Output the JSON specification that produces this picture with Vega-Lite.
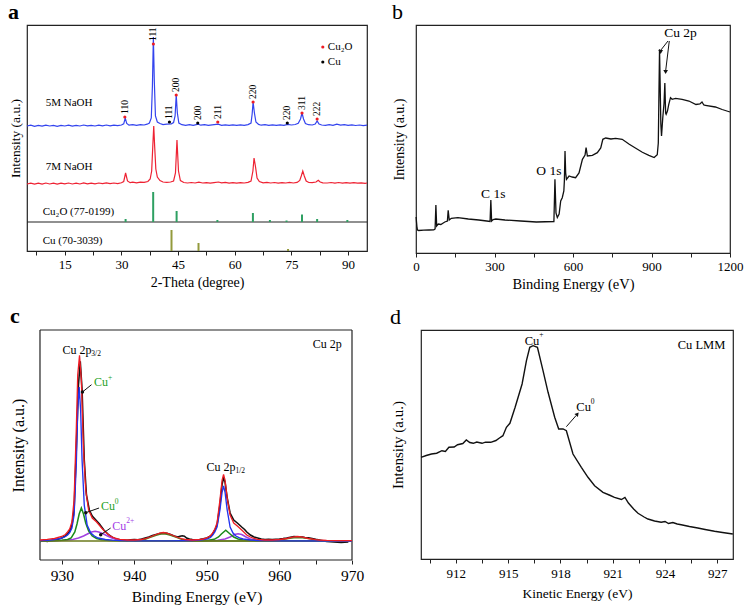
{
"$schema":"https://vega.github.io/schema/vega-lite/v6.json",
"padding":{"left":7,"top":0,"right":0,"bottom":0},
"background":"white",
"config":{
"view":{"stroke":"#222","strokeWidth":1.2},
"axis":{"labelFont":"Liberation Serif","titleFont":"Liberation Serif","grid":false,"domain":false,"tickColor":"#222","labelColor":"#000","titleColor":"#000","titleFontWeight":400,"format":"d","labelFlush":false,"tickSize":4},
"title":{"font":"Liberation Serif","fontSize":22,"anchor":"start","frame":"bounds","offset":1,"color":"#000"},
"text":{"font":"Liberation Serif","color":"#000"}
},
"datasets":{
"a_sep":[{"x":5,"x2":95,"y":29}],
"a_ref":[
{"x":31.1,"y":29,"y2":32,"ref":"Cu2O"},{"x":38.4,"y":29,"y2":59,"ref":"Cu2O"},{"x":44.6,"y":29,"y2":40,"ref":"Cu2O"},{"x":55.4,"y":29,"y2":31,"ref":"Cu2O"},{"x":64.8,"y":29,"y2":38,"ref":"Cu2O"},{"x":69.3,"y":29,"y2":31,"ref":"Cu2O"},{"x":73.7,"y":29,"y2":30.5,"ref":"Cu2O"},{"x":77.8,"y":29,"y2":36.5,"ref":"Cu2O"},{"x":81.8,"y":29,"y2":32,"ref":"Cu2O"},{"x":89.8,"y":29,"y2":31,"ref":"Cu2O"},
{"x":43.25,"y":0,"y2":21,"ref":"Cu"},{"x":50.4,"y":0,"y2":8,"ref":"Cu"},{"x":74.1,"y":0,"y2":2,"ref":"Cu"}],
"a_xrd":[
{"x":5,"y":125,"s":"5M"},{"x":6,"y":125.8,"s":"5M"},{"x":7,"y":124.6,"s":"5M"},{"x":8,"y":125.6,"s":"5M"},{"x":9,"y":124.8,"s":"5M"},{"x":10,"y":125.9,"s":"5M"},{"x":11,"y":125,"s":"5M"},{"x":12,"y":125.7,"s":"5M"},{"x":13,"y":124.7,"s":"5M"},{"x":14,"y":125.6,"s":"5M"},{"x":15,"y":125,"s":"5M"},{"x":16,"y":125.8,"s":"5M"},{"x":17,"y":124.9,"s":"5M"},{"x":18,"y":125.6,"s":"5M"},{"x":19,"y":125,"s":"5M"},{"x":20,"y":126,"s":"5M"},{"x":21,"y":125.1,"s":"5M"},{"x":22,"y":125.7,"s":"5M"},{"x":23,"y":125,"s":"5M"},{"x":24,"y":125.8,"s":"5M"},{"x":25,"y":125.2,"s":"5M"},{"x":26,"y":126,"s":"5M"},{"x":27,"y":125.2,"s":"5M"},{"x":28,"y":125.9,"s":"5M"},{"x":29,"y":125.4,"s":"5M"},{"x":30,"y":126,"s":"5M"},{"x":30.6,"y":127.2,"s":"5M"},{"x":31,"y":133,"s":"5M"},{"x":31.4,"y":127.5,"s":"5M"},{"x":32,"y":125.8,"s":"5M"},{"x":33,"y":126.4,"s":"5M"},{"x":34,"y":125.7,"s":"5M"},{"x":35,"y":126.3,"s":"5M"},{"x":36,"y":126,"s":"5M"},{"x":36.8,"y":126.8,"s":"5M"},{"x":37.4,"y":128,"s":"5M"},{"x":37.9,"y":133,"s":"5M"},{"x":38.2,"y":165,"s":"5M"},{"x":38.45,"y":214,"s":"5M"},{"x":38.7,"y":170,"s":"5M"},{"x":39.0,"y":135,"s":"5M"},{"x":39.5,"y":129,"s":"5M"},{"x":40.2,"y":127.5,"s":"5M"},{"x":41,"y":126.4,"s":"5M"},{"x":42,"y":126.8,"s":"5M"},{"x":43.2,"y":127.2,"s":"5M"},{"x":43.8,"y":128.5,"s":"5M"},{"x":44.2,"y":135,"s":"5M"},{"x":44.5,"y":156,"s":"5M"},{"x":44.8,"y":138,"s":"5M"},{"x":45.2,"y":128,"s":"5M"},{"x":46,"y":126.3,"s":"5M"},{"x":47,"y":125.7,"s":"5M"},{"x":48,"y":126.3,"s":"5M"},{"x":49,"y":125.6,"s":"5M"},{"x":50.3,"y":126.8,"s":"5M"},{"x":51,"y":125.8,"s":"5M"},{"x":52,"y":126.3,"s":"5M"},{"x":53,"y":125.6,"s":"5M"},{"x":54,"y":126.2,"s":"5M"},{"x":55.6,"y":126.8,"s":"5M"},{"x":56.5,"y":125.7,"s":"5M"},{"x":57.5,"y":126.2,"s":"5M"},{"x":58.5,"y":125.6,"s":"5M"},{"x":59.5,"y":126.2,"s":"5M"},{"x":60.5,"y":125.6,"s":"5M"},{"x":61.5,"y":126.2,"s":"5M"},{"x":62.5,"y":125.7,"s":"5M"},{"x":63.5,"y":126.4,"s":"5M"},{"x":64.3,"y":128,"s":"5M"},{"x":64.6,"y":137,"s":"5M"},{"x":64.85,"y":149,"s":"5M"},{"x":65.2,"y":138,"s":"5M"},{"x":65.6,"y":129,"s":"5M"},{"x":66.3,"y":126.6,"s":"5M"},{"x":67,"y":125.8,"s":"5M"},{"x":68,"y":126.3,"s":"5M"},{"x":69,"y":125.6,"s":"5M"},{"x":70,"y":126.2,"s":"5M"},{"x":71,"y":125.6,"s":"5M"},{"x":72,"y":126.2,"s":"5M"},{"x":73,"y":125.7,"s":"5M"},{"x":74,"y":126.6,"s":"5M"},{"x":75,"y":126,"s":"5M"},{"x":76,"y":126.5,"s":"5M"},{"x":76.8,"y":127.8,"s":"5M"},{"x":77.4,"y":132,"s":"5M"},{"x":77.8,"y":138,"s":"5M"},{"x":78.2,"y":132,"s":"5M"},{"x":78.7,"y":127.5,"s":"5M"},{"x":79.5,"y":126.3,"s":"5M"},{"x":80.5,"y":126,"s":"5M"},{"x":81.3,"y":127,"s":"5M"},{"x":81.8,"y":130,"s":"5M"},{"x":82.3,"y":127,"s":"5M"},{"x":83,"y":126,"s":"5M"},{"x":84,"y":125.7,"s":"5M"},{"x":85,"y":126.3,"s":"5M"},{"x":86,"y":125.7,"s":"5M"},{"x":87,"y":126.8,"s":"5M"},{"x":88,"y":125.8,"s":"5M"},{"x":89,"y":126.3,"s":"5M"},{"x":90,"y":125.6,"s":"5M"},{"x":91,"y":126.2,"s":"5M"},{"x":92,"y":125.5,"s":"5M"},{"x":93,"y":126,"s":"5M"},{"x":94,"y":125.4,"s":"5M"},{"x":95,"y":125.8,"s":"5M"},
{"x":5,"y":67,"s":"7M"},{"x":6,"y":67.9,"s":"7M"},{"x":7,"y":66.8,"s":"7M"},{"x":8,"y":67.8,"s":"7M"},{"x":9,"y":66.9,"s":"7M"},{"x":10,"y":68,"s":"7M"},{"x":11,"y":67,"s":"7M"},{"x":12,"y":67.8,"s":"7M"},{"x":13,"y":66.9,"s":"7M"},{"x":14,"y":67.9,"s":"7M"},{"x":15,"y":67.1,"s":"7M"},{"x":16,"y":68,"s":"7M"},{"x":17,"y":67,"s":"7M"},{"x":18,"y":67.9,"s":"7M"},{"x":19,"y":67,"s":"7M"},{"x":20,"y":68.1,"s":"7M"},{"x":21,"y":67.2,"s":"7M"},{"x":22,"y":67.9,"s":"7M"},{"x":23,"y":67.1,"s":"7M"},{"x":24,"y":68,"s":"7M"},{"x":25,"y":67.3,"s":"7M"},{"x":26,"y":68.1,"s":"7M"},{"x":27,"y":67.3,"s":"7M"},{"x":28,"y":68,"s":"7M"},{"x":29,"y":67.4,"s":"7M"},{"x":30,"y":68.2,"s":"7M"},{"x":30.6,"y":69.5,"s":"7M"},{"x":31.1,"y":78,"s":"7M"},{"x":31.6,"y":70,"s":"7M"},{"x":32.3,"y":68.3,"s":"7M"},{"x":33,"y":68.8,"s":"7M"},{"x":34,"y":68.2,"s":"7M"},{"x":35,"y":68.8,"s":"7M"},{"x":36,"y":68.6,"s":"7M"},{"x":37,"y":69.5,"s":"7M"},{"x":37.6,"y":72,"s":"7M"},{"x":38.0,"y":80,"s":"7M"},{"x":38.3,"y":105,"s":"7M"},{"x":38.55,"y":125,"s":"7M"},{"x":38.8,"y":104,"s":"7M"},{"x":39.1,"y":82,"s":"7M"},{"x":39.5,"y":74,"s":"7M"},{"x":40.2,"y":70.5,"s":"7M"},{"x":41,"y":69,"s":"7M"},{"x":42,"y":68.6,"s":"7M"},{"x":43,"y":69,"s":"7M"},{"x":43.8,"y":70,"s":"7M"},{"x":44.3,"y":78,"s":"7M"},{"x":44.7,"y":111,"s":"7M"},{"x":45.1,"y":80,"s":"7M"},{"x":45.6,"y":70.5,"s":"7M"},{"x":46.5,"y":68.5,"s":"7M"},{"x":47.5,"y":68,"s":"7M"},{"x":48.5,"y":68.5,"s":"7M"},{"x":49.5,"y":68,"s":"7M"},{"x":50.5,"y":68.8,"s":"7M"},{"x":51.5,"y":68,"s":"7M"},{"x":52.5,"y":68.4,"s":"7M"},{"x":53.5,"y":67.9,"s":"7M"},{"x":54.5,"y":68.4,"s":"7M"},{"x":55.7,"y":69,"s":"7M"},{"x":56.5,"y":68.2,"s":"7M"},{"x":57.5,"y":68.6,"s":"7M"},{"x":58.5,"y":67.9,"s":"7M"},{"x":59.5,"y":68.4,"s":"7M"},{"x":60.5,"y":67.9,"s":"7M"},{"x":61.5,"y":68.4,"s":"7M"},{"x":62.5,"y":68,"s":"7M"},{"x":63.5,"y":68.6,"s":"7M"},{"x":64.3,"y":70,"s":"7M"},{"x":64.8,"y":80,"s":"7M"},{"x":65.1,"y":93,"s":"7M"},{"x":65.5,"y":84,"s":"7M"},{"x":65.9,"y":73,"s":"7M"},{"x":66.5,"y":69.5,"s":"7M"},{"x":67.5,"y":68.2,"s":"7M"},{"x":68.5,"y":68.6,"s":"7M"},{"x":69.5,"y":68,"s":"7M"},{"x":70.5,"y":68.5,"s":"7M"},{"x":71.5,"y":67.9,"s":"7M"},{"x":72.5,"y":68.4,"s":"7M"},{"x":73.5,"y":68,"s":"7M"},{"x":74.5,"y":68.6,"s":"7M"},{"x":75.5,"y":68,"s":"7M"},{"x":76.5,"y":68.6,"s":"7M"},{"x":77.2,"y":70.5,"s":"7M"},{"x":77.6,"y":75,"s":"7M"},{"x":78,"y":80,"s":"7M"},{"x":78.4,"y":75,"s":"7M"},{"x":78.9,"y":70,"s":"7M"},{"x":79.6,"y":68.5,"s":"7M"},{"x":80.5,"y":68.3,"s":"7M"},{"x":81.5,"y":69,"s":"7M"},{"x":82.1,"y":70.8,"s":"7M"},{"x":82.6,"y":69,"s":"7M"},{"x":83.3,"y":68.2,"s":"7M"},{"x":84.5,"y":68,"s":"7M"},{"x":85.5,"y":68.5,"s":"7M"},{"x":86.5,"y":67.9,"s":"7M"},{"x":87.5,"y":68.5,"s":"7M"},{"x":88.5,"y":67.9,"s":"7M"},{"x":89.5,"y":68.4,"s":"7M"},{"x":90.5,"y":67.9,"s":"7M"},{"x":91.5,"y":68.3,"s":"7M"},{"x":92.5,"y":67.8,"s":"7M"},{"x":93.5,"y":68.2,"s":"7M"},{"x":94.5,"y":67.7,"s":"7M"},{"x":95,"y":68,"s":"7M"}],
"a_hkl":[
{"x":30.9,"y":134,"t":"110","p":"Cu2O"},{"x":38.45,"y":207,"t":"111","p":"Cu2O"},{"x":44.5,"y":156,"t":"200","p":"Cu2O"},{"x":55.5,"y":129,"t":"211","p":"Cu2O"},{"x":64.85,"y":149,"t":"220","p":"Cu2O"},{"x":77.8,"y":138,"t":"311","p":"Cu2O"},{"x":81.8,"y":132,"t":"222","p":"Cu2O"},
{"x":42.7,"y":129,"t":"111","p":"Cu"},{"x":50.2,"y":128,"t":"200","p":"Cu"},{"x":73.9,"y":128,"t":"220","p":"Cu"}],
"a_leg":[{"x":83.3,"y":204,"t":"Cu₂O","p":"Cu2O"},{"x":83.3,"y":189,"t":"Cu","p":"Cu"}],
"a_lab":[{"x":9.95,"y":148,"t":"5M NaOH"},{"x":9.95,"y":84,"t":"7M NaOH"},{"x":9.16,"y":39,"t":"Cu₂O (77-0199)"},{"x":9.16,"y":10,"t":"Cu (70-3039)"}],
"b_line":[
{"x":0.5,"y":36},{"x":2,"y":31},{"x":4,"y":25},{"x":6,"y":23},{"x":10,"y":22.5},{"x":30,"y":22.8},{"x":50,"y":23},{"x":68,"y":23.2},{"x":73,"y":24},{"x":76,"y":48},{"x":79,"y":27},{"x":85,"y":29},{"x":95,"y":28.5},{"x":110,"y":31},{"x":120,"y":32},{"x":123,"y":42.7},{"x":127,"y":33},{"x":135,"y":34.7},{"x":160,"y":35.3},{"x":200,"y":34},{"x":240,"y":33},{"x":270,"y":32},{"x":283,"y":31.5},{"x":286,"y":53},{"x":289,"y":32},{"x":295,"y":33.5},{"x":305,"y":34},{"x":340,"y":33},{"x":400,"y":32},{"x":460,"y":31},{"x":527,"y":31.5},{"x":531,"y":73.7},{"x":535,"y":40},{"x":540,"y":35.5},{"x":547,"y":39},{"x":553,"y":52},{"x":559,"y":55.3},{"x":565,"y":62},{"x":567,"y":72},{"x":569.5,"y":102},{"x":572,"y":80},{"x":575,"y":73.7},{"x":585,"y":77},{"x":597,"y":76},{"x":610,"y":75.3},{"x":623,"y":80},{"x":636,"y":93.7},{"x":646,"y":98},{"x":650,"y":105.3},{"x":655,"y":97},{"x":674,"y":97.7},{"x":693,"y":100.3},{"x":706,"y":105},{"x":714,"y":113.7},{"x":725,"y":115},{"x":745,"y":114},{"x":763,"y":114.7},{"x":788,"y":113.7},{"x":815,"y":108.7},{"x":840,"y":104.7},{"x":865,"y":100.7},{"x":890,"y":97.7},{"x":910,"y":95.5},{"x":922,"y":98.3},{"x":926,"y":110},{"x":928,"y":150},{"x":930.7,"y":203.7},{"x":933,"y":170},{"x":935.7,"y":129},{"x":938.3,"y":117},{"x":943,"y":135},{"x":948,"y":150},{"x":951,"y":170},{"x":954,"y":140},{"x":956,"y":138.7},{"x":961,"y":142},{"x":966,"y":148.7},{"x":972.6,"y":155.3},{"x":979,"y":153.7},{"x":992,"y":154.7},{"x":1017,"y":153.7},{"x":1043,"y":152},{"x":1070,"y":148.5},{"x":1085,"y":149},{"x":1093,"y":151},{"x":1100,"y":148},{"x":1106,"y":147.7},{"x":1144,"y":146},{"x":1170,"y":143.5},{"x":1200,"y":141}],
"b_text":[{"x":295,"y":59.3,"t":"C 1s"},{"x":508,"y":82,"t":"O 1s"},{"x":1010.6,"y":220.3,"t":"Cu 2p"}],
"b_arrow":[{"x":963,"y":212,"x2":936,"y2":203},{"x":968,"y":212,"x2":954.5,"y2":183}],
"b_head":[{"x":935,"y":201},{"x":954,"y":181}],
"c_frame":[{"x":927,"y":0,"x2":927,"y2":230},{"x":970,"y":0,"x2":970,"y2":230},{"x":927,"y":0,"x2":970,"y2":0},{"x":927,"y":230,"x2":970,"y2":230}],
"c_lines":[
{"x":927,"y":18.5,"s":"data"},{"x":927.5,"y":19.2,"s":"data"},{"x":928,"y":18.6,"s":"data"},{"x":928.5,"y":19.3,"s":"data"},{"x":929,"y":20,"s":"data"},{"x":929.5,"y":20.8,"s":"data"},{"x":930,"y":22,"s":"data"},{"x":930.5,"y":24,"s":"data"},{"x":930.8,"y":26,"s":"data"},{"x":931.1,"y":29,"s":"data"},{"x":931.4,"y":35,"s":"data"},{"x":931.7,"y":50,"s":"data"},{"x":932.0,"y":110,"s":"data"},{"x":932.3,"y":175,"s":"data"},{"x":932.55,"y":198.7,"s":"data"},{"x":932.8,"y":170,"s":"data"},{"x":933.1,"y":100,"s":"data"},{"x":933.4,"y":65,"s":"data"},{"x":933.8,"y":50,"s":"data"},{"x":934.2,"y":44,"s":"data"},{"x":934.7,"y":40,"s":"data"},{"x":935.2,"y":36,"s":"data"},{"x":935.8,"y":30,"s":"data"},{"x":936.5,"y":25,"s":"data"},{"x":937,"y":22.5,"s":"data"},{"x":937.5,"y":21,"s":"data"},{"x":938,"y":20.3,"s":"data"},{"x":938.5,"y":20,"s":"data"},{"x":939,"y":19.6,"s":"data"},{"x":939.5,"y":20.2,"s":"data"},{"x":940,"y":20.5,"s":"data"},{"x":940.5,"y":20.3,"s":"data"},{"x":941,"y":21,"s":"data"},{"x":941.5,"y":22,"s":"data"},{"x":942,"y":23,"s":"data"},{"x":942.5,"y":24.5,"s":"data"},{"x":943,"y":25.5,"s":"data"},{"x":943.5,"y":26.5,"s":"data"},{"x":944,"y":27,"s":"data"},{"x":944.5,"y":26.6,"s":"data"},{"x":945,"y":25.5,"s":"data"},{"x":945.5,"y":24,"s":"data"},{"x":946,"y":23,"s":"data"},{"x":946.3,"y":23.8,"s":"data"},{"x":946.6,"y":24.3,"s":"data"},{"x":946.9,"y":23.8,"s":"data"},{"x":947.2,"y":22,"s":"data"},{"x":947.6,"y":21,"s":"data"},{"x":948,"y":20.5,"s":"data"},{"x":948.5,"y":20.2,"s":"data"},{"x":949,"y":20.5,"s":"data"},{"x":949.5,"y":21.2,"s":"data"},{"x":950,"y":22,"s":"data"},{"x":950.5,"y":24,"s":"data"},{"x":950.8,"y":26,"s":"data"},{"x":951.1,"y":30,"s":"data"},{"x":951.4,"y":35,"s":"data"},{"x":951.8,"y":55,"s":"data"},{"x":952.1,"y":76,"s":"data"},{"x":952.3,"y":82,"s":"data"},{"x":952.5,"y":78,"s":"data"},{"x":952.8,"y":62,"s":"data"},{"x":953.2,"y":47,"s":"data"},{"x":953.7,"y":40,"s":"data"},{"x":954.2,"y":37,"s":"data"},{"x":954.8,"y":33,"s":"data"},{"x":955.2,"y":30.5,"s":"data"},{"x":955.5,"y":28,"s":"data"},{"x":956,"y":25,"s":"data"},{"x":956.5,"y":23,"s":"data"},{"x":957,"y":22,"s":"data"},{"x":957.5,"y":21,"s":"data"},{"x":958,"y":20.4,"s":"data"},{"x":958.5,"y":20.6,"s":"data"},{"x":959,"y":20.5,"s":"data"},{"x":959.5,"y":20.8,"s":"data"},{"x":960,"y":21,"s":"data"},{"x":960.5,"y":21.4,"s":"data"},{"x":961,"y":22,"s":"data"},{"x":961.5,"y":22.8,"s":"data"},{"x":962,"y":23.5,"s":"data"},{"x":962.5,"y":23.2,"s":"data"},{"x":962.8,"y":23,"s":"data"},{"x":963.2,"y":22.9,"s":"data"},{"x":963.5,"y":22.5,"s":"data"},{"x":964,"y":22.2,"s":"data"},{"x":964.5,"y":21.5,"s":"data"},{"x":965,"y":20.6,"s":"data"},{"x":965.5,"y":20,"s":"data"},{"x":966,"y":19.2,"s":"data"},{"x":966.5,"y":18.5,"s":"data"},{"x":967,"y":18.2,"s":"data"},{"x":967.5,"y":18,"s":"data"},{"x":968,"y":17.8,"s":"data"},{"x":968.5,"y":17.5,"s":"data"},{"x":969,"y":17.9,"s":"data"},{"x":969.5,"y":18,"s":"data"},
{"x":927,"y":19,"s":"Cu2+"},{"x":929,"y":19.2,"s":"Cu2+"},{"x":930.5,"y":19.8,"s":"Cu2+"},{"x":931.5,"y":20.6,"s":"Cu2+"},{"x":932.3,"y":22,"s":"Cu2+"},{"x":933,"y":24,"s":"Cu2+"},{"x":933.6,"y":26.3,"s":"Cu2+"},{"x":934.1,"y":28,"s":"Cu2+"},{"x":934.6,"y":28.7,"s":"Cu2+"},{"x":935.1,"y":28,"s":"Cu2+"},{"x":935.7,"y":26.3,"s":"Cu2+"},{"x":936.3,"y":24,"s":"Cu2+"},{"x":937,"y":21.8,"s":"Cu2+"},{"x":937.7,"y":20.4,"s":"Cu2+"},{"x":938.5,"y":19.6,"s":"Cu2+"},{"x":940,"y":19.2,"s":"Cu2+"},{"x":948,"y":19,"s":"Cu2+"},{"x":950,"y":19.2,"s":"Cu2+"},{"x":951.5,"y":19.8,"s":"Cu2+"},{"x":952.5,"y":21,"s":"Cu2+"},{"x":953.2,"y":23,"s":"Cu2+"},{"x":953.8,"y":25.5,"s":"Cu2+"},{"x":954.3,"y":26.3,"s":"Cu2+"},{"x":954.8,"y":25.5,"s":"Cu2+"},{"x":955.4,"y":23,"s":"Cu2+"},{"x":956,"y":21,"s":"Cu2+"},{"x":956.8,"y":19.8,"s":"Cu2+"},{"x":958,"y":19.3,"s":"Cu2+"},{"x":960,"y":19,"s":"Cu2+"},{"x":970,"y":19,"s":"Cu2+"},
{"x":927,"y":19,"s":"Cu0"},{"x":929,"y":19.3,"s":"Cu0"},{"x":930,"y":19.8,"s":"Cu0"},{"x":930.8,"y":20.5,"s":"Cu0"},{"x":931.3,"y":22,"s":"Cu0"},{"x":931.8,"y":28,"s":"Cu0"},{"x":932.1,"y":36,"s":"Cu0"},{"x":932.4,"y":46,"s":"Cu0"},{"x":932.7,"y":52,"s":"Cu0"},{"x":933.0,"y":46,"s":"Cu0"},{"x":933.3,"y":37,"s":"Cu0"},{"x":933.7,"y":29,"s":"Cu0"},{"x":934.2,"y":24,"s":"Cu0"},{"x":934.8,"y":21.5,"s":"Cu0"},{"x":935.5,"y":20.3,"s":"Cu0"},{"x":936.5,"y":19.6,"s":"Cu0"},{"x":938,"y":19.2,"s":"Cu0"},{"x":948,"y":19.2,"s":"Cu0"},{"x":950,"y":19.6,"s":"Cu0"},{"x":951,"y":20.7,"s":"Cu0"},{"x":951.6,"y":23,"s":"Cu0"},{"x":952,"y":26,"s":"Cu0"},{"x":952.6,"y":29.7,"s":"Cu0"},{"x":953.2,"y":26,"s":"Cu0"},{"x":953.7,"y":23,"s":"Cu0"},{"x":954.3,"y":21,"s":"Cu0"},{"x":955,"y":20,"s":"Cu0"},{"x":956,"y":19.5,"s":"Cu0"},{"x":958,"y":19.2,"s":"Cu0"},{"x":970,"y":19,"s":"Cu0"},
{"x":940,"y":19,"s":"sat"},{"x":940.8,"y":19.6,"s":"sat"},{"x":941.5,"y":20.8,"s":"sat"},{"x":942.2,"y":22.6,"s":"sat"},{"x":943,"y":24.8,"s":"sat"},{"x":943.5,"y":25.8,"s":"sat"},{"x":944,"y":26.3,"s":"sat"},{"x":944.5,"y":25.8,"s":"sat"},{"x":945,"y":24.8,"s":"sat"},{"x":945.8,"y":22.6,"s":"sat"},{"x":946.5,"y":20.8,"s":"sat"},{"x":947.2,"y":19.6,"s":"sat"},{"x":948,"y":19,"s":"sat"},{"x":959,"y":19,"s":"sat"},{"x":959.8,"y":19.5,"s":"sat"},{"x":960.5,"y":20.4,"s":"sat"},{"x":961.2,"y":21.4,"s":"sat"},{"x":962,"y":22.1,"s":"sat"},{"x":962.6,"y":22.3,"s":"sat"},{"x":963.2,"y":22.1,"s":"sat"},{"x":964,"y":21.4,"s":"sat"},{"x":964.7,"y":20.4,"s":"sat"},{"x":965.4,"y":19.5,"s":"sat"},{"x":966.2,"y":19,"s":"sat"},
{"x":927,"y":19,"s":"base"},{"x":970,"y":19,"s":"base"},
{"x":927,"y":19.3,"s":"Cu+"},{"x":928,"y":19.7,"s":"Cu+"},{"x":929,"y":20.5,"s":"Cu+"},{"x":930,"y":22,"s":"Cu+"},{"x":930.5,"y":23.5,"s":"Cu+"},{"x":930.8,"y":25,"s":"Cu+"},{"x":931.1,"y":27.5,"s":"Cu+"},{"x":931.4,"y":32,"s":"Cu+"},{"x":931.7,"y":45,"s":"Cu+"},{"x":932.0,"y":95,"s":"Cu+"},{"x":932.2,"y":150,"s":"Cu+"},{"x":932.4,"y":173,"s":"Cu+"},{"x":932.6,"y":150,"s":"Cu+"},{"x":932.8,"y":100,"s":"Cu+"},{"x":933.1,"y":55,"s":"Cu+"},{"x":933.5,"y":35,"s":"Cu+"},{"x":934,"y":27,"s":"Cu+"},{"x":934.5,"y":24,"s":"Cu+"},{"x":935,"y":22,"s":"Cu+"},{"x":936,"y":20.5,"s":"Cu+"},{"x":937,"y":19.8,"s":"Cu+"},{"x":938,"y":19.5,"s":"Cu+"},{"x":940,"y":19.2,"s":"Cu+"},{"x":945,"y":19.1,"s":"Cu+"},{"x":948,"y":19.5,"s":"Cu+"},{"x":949,"y":20,"s":"Cu+"},{"x":950,"y":21,"s":"Cu+"},{"x":950.5,"y":22.5,"s":"Cu+"},{"x":950.8,"y":25,"s":"Cu+"},{"x":951.1,"y":28,"s":"Cu+"},{"x":951.4,"y":33,"s":"Cu+"},{"x":951.8,"y":50,"s":"Cu+"},{"x":952.1,"y":68,"s":"Cu+"},{"x":952.3,"y":74,"s":"Cu+"},{"x":952.5,"y":68,"s":"Cu+"},{"x":952.8,"y":50,"s":"Cu+"},{"x":953.2,"y":33,"s":"Cu+"},{"x":953.6,"y":27,"s":"Cu+"},{"x":954,"y":24,"s":"Cu+"},{"x":954.5,"y":22.2,"s":"Cu+"},{"x":955,"y":21,"s":"Cu+"},{"x":956,"y":20,"s":"Cu+"},{"x":957,"y":19.5,"s":"Cu+"},{"x":960,"y":19.2,"s":"Cu+"},{"x":970,"y":19,"s":"Cu+"},
{"x":927,"y":20,"s":"env"},{"x":928,"y":20.6,"s":"env"},{"x":929,"y":21.5,"s":"env"},{"x":930,"y":23.5,"s":"env"},{"x":930.5,"y":25.5,"s":"env"},{"x":930.8,"y":28,"s":"env"},{"x":931.1,"y":31,"s":"env"},{"x":931.4,"y":38,"s":"env"},{"x":931.7,"y":60,"s":"env"},{"x":932.0,"y":130,"s":"env"},{"x":932.2,"y":185,"s":"env"},{"x":932.45,"y":204.7,"s":"env"},{"x":932.7,"y":180,"s":"env"},{"x":933.0,"y":110,"s":"env"},{"x":933.3,"y":70,"s":"env"},{"x":933.7,"y":50,"s":"env"},{"x":934.2,"y":42,"s":"env"},{"x":934.8,"y":38,"s":"env"},{"x":935.5,"y":32,"s":"env"},{"x":936,"y":28,"s":"env"},{"x":936.5,"y":25,"s":"env"},{"x":937,"y":22.8,"s":"env"},{"x":937.5,"y":21.5,"s":"env"},{"x":938,"y":20.7,"s":"env"},{"x":939,"y":20,"s":"env"},{"x":940,"y":20,"s":"env"},{"x":941,"y":20.5,"s":"env"},{"x":941.5,"y":21.3,"s":"env"},{"x":942,"y":22.5,"s":"env"},{"x":942.5,"y":24,"s":"env"},{"x":943,"y":25.5,"s":"env"},{"x":943.5,"y":26.9,"s":"env"},{"x":944,"y":27.5,"s":"env"},{"x":944.5,"y":26.9,"s":"env"},{"x":945,"y":25.5,"s":"env"},{"x":945.5,"y":24,"s":"env"},{"x":946,"y":22.5,"s":"env"},{"x":946.5,"y":21.3,"s":"env"},{"x":947,"y":20.5,"s":"env"},{"x":948,"y":20,"s":"env"},{"x":949,"y":20.5,"s":"env"},{"x":949.5,"y":21,"s":"env"},{"x":950,"y":22,"s":"env"},{"x":950.5,"y":24.3,"s":"env"},{"x":950.8,"y":27,"s":"env"},{"x":951.1,"y":31,"s":"env"},{"x":951.4,"y":37,"s":"env"},{"x":951.8,"y":60,"s":"env"},{"x":952.1,"y":80,"s":"env"},{"x":952.3,"y":85.7,"s":"env"},{"x":952.5,"y":80,"s":"env"},{"x":952.8,"y":62,"s":"env"},{"x":953.2,"y":45,"s":"env"},{"x":953.7,"y":37,"s":"env"},{"x":954.2,"y":34,"s":"env"},{"x":954.8,"y":30,"s":"env"},{"x":955.5,"y":25,"s":"env"},{"x":956,"y":23,"s":"env"},{"x":956.5,"y":21.5,"s":"env"},{"x":957,"y":20.7,"s":"env"},{"x":958,"y":20,"s":"env"},{"x":959,"y":20,"s":"env"},{"x":960,"y":20.5,"s":"env"},{"x":961,"y":21.5,"s":"env"},{"x":961.8,"y":22.8,"s":"env"},{"x":962.5,"y":23.5,"s":"env"},{"x":963.2,"y":22.8,"s":"env"},{"x":964,"y":21.5,"s":"env"},{"x":965,"y":20.3,"s":"env"},{"x":965.5,"y":20,"s":"env"},{"x":966.5,"y":19.6,"s":"env"},{"x":968,"y":19.4,"s":"env"},{"x":970,"y":19.3,"s":"env"}],
"c_text":[{"x":930.1,"y":210,"t":"Cu 2p","c":"lab"},{"x":949.95,"y":93,"t":"Cu 2p","c":"lab"},{"x":964.6,"y":216,"t":"Cu 2p","c":"lab"},{"x":934.45,"y":178,"t":"Cu","c":"Cu+"},{"x":935.4,"y":54,"t":"Cu","c":"Cu0"},{"x":936.96,"y":34.5,"t":"Cu","c":"Cu2+"}],
"c_small":[{"x":934.08,"y":206,"t":"3/2","c":"lab"},{"x":953.93,"y":89,"t":"1/2","c":"lab"},{"x":936.37,"y":182.5,"t":"+","c":"Cu+"},{"x":937.32,"y":58.5,"t":"0","c":"Cu0"},{"x":938.88,"y":39,"t":"2+","c":"Cu2+"}],
"c_arrow":[{"x":934.1,"y":175.3,"x2":932.85,"y2":168},{"x":935.14,"y":52,"x2":933.31,"y2":47.3},{"x":936.74,"y":32,"x2":935.37,"y2":25.3}],
"c_dot":[{"x":932.85,"y":168},{"x":933.31,"y":47.3},{"x":935.37,"y":25.3}],
"d_line":[{"x":910.0,"y":101.7},{"x":910.3,"y":103.5},{"x":910.6,"y":105},{"x":910.9,"y":105.8},{"x":911.2,"y":108.3},{"x":911.4,"y":107.5},{"x":911.6,"y":111.7},{"x":911.9,"y":112},{"x":912.1,"y":114.3},{"x":912.4,"y":115.5},{"x":912.6,"y":119},{"x":912.8,"y":116.5},{"x":913.0,"y":115.7},{"x":913.2,"y":117},{"x":913.5,"y":115.7},{"x":913.7,"y":116.8},{"x":914.0,"y":116.7},{"x":914.3,"y":118.5},{"x":914.5,"y":121},{"x":914.7,"y":123.3},{"x":914.9,"y":131.7},{"x":915.1,"y":135.7},{"x":915.4,"y":151.7},{"x":915.8,"y":175},{"x":916.05,"y":198.3},{"x":916.24,"y":211.7},{"x":916.43,"y":213.3},{"x":916.68,"y":211.7},{"x":917.0,"y":188.3},{"x":917.29,"y":166.7},{"x":917.67,"y":141.7},{"x":917.9,"y":130},{"x":918.15,"y":130},{"x":918.34,"y":128.3},{"x":918.72,"y":105},{"x":919.2,"y":91.7},{"x":919.58,"y":81.7},{"x":919.96,"y":73.3},{"x":920.44,"y":66.7},{"x":920.8,"y":64},{"x":921.1,"y":61.7},{"x":921.5,"y":59.5},{"x":921.7,"y":61.5},{"x":921.9,"y":56},{"x":922.2,"y":50},{"x":922.45,"y":45.7},{"x":922.8,"y":42},{"x":923.02,"y":40},{"x":923.4,"y":38},{"x":923.78,"y":36.7},{"x":924.0,"y":37.5},{"x":924.2,"y":35.5},{"x":924.45,"y":36.5},{"x":924.7,"y":35},{"x":924.93,"y":34.3},{"x":925.4,"y":32.5},{"x":925.88,"y":31},{"x":926.3,"y":29.5},{"x":926.84,"y":27.7},{"x":927.3,"y":26.5},{"x":927.89,"y":25}],
"d_text":[{"x":915.95,"y":218.3,"t":"Cu"},{"x":918.91,"y":151.7,"t":"Cu"},{"x":924.73,"y":214.3,"t":"Cu LMM"}],
"d_small":[{"x":916.78,"y":224.5,"t":"+"},{"x":919.74,"y":157.5,"t":"0"}],
"d_arrow":[{"x":918.34,"y":132.3,"x2":918.9,"y2":143.5}],
"d_head":[{"x":918.95,"y":144.5}]
},
"spacing":13,
"resolve":{"scale":{"color":"independent","fill":"independent","stroke":"independent","strokeWidth":"independent"}},
"vconcat":[
{"hconcat":[
{"title":{"text":"a","fontWeight":"bold"},"width":340,"height":226,
"encoding":{"x":{"field":"x","type":"quantitative","scale":{"domain":[5,95],"nice":false,"zero":false},"axis":{"title":"2-Theta (degree)","values":[7.5,15,22.5,30,37.5,45,52.5,60,67.5,75,82.5,90],"labelExpr":"datum.value % 15 === 0 ? datum.label : ''","labelPadding":3,"titlePadding":4,"labelFontSize":13,"titleFontSize":14,"titleFontWeight":400}},
"y":{"field":"y","type":"quantitative","scale":{"domain":[0,226],"nice":false,"zero":false},"axis":{"title":"Intensity (a.u.)","labels":false,"ticks":false,"titlePadding":5,"titleFontSize":13.5,"titleFontWeight":400,"minExtent":0,"maxExtent":0}}},
"layer":[
{"data":{"name":"a_sep"},"mark":{"type":"rule","color":"#222","strokeWidth":1.2},"encoding":{"x2":{"field":"x2"}}},
{"data":{"name":"a_ref"},"mark":{"type":"rule","strokeWidth":2},"encoding":{"y2":{"field":"y2"},"color":{"field":"ref","type":"nominal","scale":{"domain":["Cu2O","Cu"],"range":["#2ea062","#939a3c"]},"legend":null}}},
{"data":{"name":"a_xrd"},"mark":{"type":"line","strokeWidth":1.2},"encoding":{"stroke":{"field":"s","type":"nominal","scale":{"domain":["5M","7M"],"range":["#3344ee","#ee2233"]},"legend":null}}},
{"data":{"name":"a_hkl"},"mark":{"type":"point","filled":true,"size":10,"opacity":1},"encoding":{"fill":{"field":"p","type":"nominal","scale":{"domain":["Cu2O","Cu"],"range":["#ee1c24","#000000"]},"legend":null}}},
{"data":{"name":"a_hkl"},"mark":{"type":"text","angle":270,"align":"left","baseline":"middle","dx":3,"fontSize":9.5},"encoding":{"text":{"field":"t"}}},
{"data":{"name":"a_leg"},"mark":{"type":"point","filled":true,"size":10,"opacity":1},"encoding":{"fill":{"field":"p","type":"nominal","scale":{"domain":["Cu2O","Cu"],"range":["#ee1c24","#000000"]},"legend":null}}},
{"data":{"name":"a_leg"},"mark":{"type":"text","align":"left","baseline":"middle","dx":5,"fontSize":11},"encoding":{"text":{"field":"t"}}},
{"data":{"name":"a_lab"},"mark":{"type":"text","align":"left","baseline":"middle","fontSize":11},"encoding":{"text":{"field":"t"}}}
]},
{"title":{"text":"b","fontWeight":"normal"},"width":314,"height":228,
"encoding":{"x":{"field":"x","type":"quantitative","scale":{"domain":[0,1200],"nice":false,"zero":false},"axis":{"title":"Binding Energy (eV)","values":[0,150,300,450,600,750,900,1050,1200],"labelExpr":"datum.value % 300 === 0 ? datum.label : ''","labelPadding":3,"titlePadding":4,"labelFontSize":13,"titleFontSize":14.5,"titleFontWeight":400}},
"y":{"field":"y","type":"quantitative","scale":{"domain":[0,228],"nice":false,"zero":false},"axis":{"title":"Intensity (a.u.)","labels":false,"ticks":false,"titlePadding":10,"titleFontSize":14,"titleFontWeight":400,"minExtent":0,"maxExtent":0}}},
"layer":[
{"data":{"name":"b_line"},"mark":{"type":"line","color":"#111","strokeWidth":1.3}},
{"data":{"name":"b_text"},"mark":{"type":"text","align":"center","baseline":"middle","fontSize":13.5},"encoding":{"text":{"field":"t"}}},
{"data":{"name":"b_arrow"},"mark":{"type":"rule","color":"#111","strokeWidth":1},"encoding":{"x2":{"field":"x2"},"y2":{"field":"y2"}}},
{"data":{"name":"b_head"},"mark":{"type":"point","shape":"triangle-down","filled":true,"size":22,"color":"#111","opacity":1}}
]}
],"spacing":21,"resolve":{"scale":{"color":"independent","fill":"independent","stroke":"independent","strokeWidth":"independent"}}},
{"hconcat":[
{"title":{"text":"c","fontWeight":"bold"},"width":325,"height":230,"view":{"stroke":null},
"encoding":{"x":{"field":"x","type":"quantitative","scale":{"domain":[925.21,970],"nice":false,"zero":false},"axis":{"title":"Binding Energy (eV)","values":[930,935,940,945,950,955,960,965,970],"labelExpr":"datum.value % 10 === 0 ? datum.label : ''","labelPadding":4,"titlePadding":6,"labelFontSize":15.5,"titleFontSize":15.5,"titleFontWeight":400,"titleX":169.5}},
"y":{"field":"y","type":"quantitative","scale":{"domain":[0,230],"nice":false,"zero":false},"axis":{"title":"Intensity (a.u.)","labels":false,"ticks":false,"titlePadding":1,"titleFontSize":16,"titleFontWeight":400,"minExtent":0,"maxExtent":0}}},
"layer":[
{"data":{"name":"c_frame"},"mark":{"type":"rule","color":"#222","strokeWidth":1.2},"encoding":{"x2":{"field":"x2"},"y2":{"field":"y2"}}},
{"data":{"name":"c_lines"},"mark":{"type":"line"},"encoding":{"stroke":{"field":"s","type":"nominal","scale":{"domain":["data","Cu2+","Cu0","sat","base","Cu+","env"],"range":["#111111","#a040e0","#1a8a1a","#4d7d22","#6b7a1c","#2233ee","#ee1c24"]},"legend":null},"strokeWidth":{"field":"s","type":"nominal","scale":{"domain":["data","Cu2+","Cu0","sat","base","Cu+","env"],"range":[1.6,1.3,1.3,1.3,1.5,1.8,2.2]},"legend":null}}},
{"data":{"name":"c_arrow"},"mark":{"type":"rule","color":"#111","strokeWidth":1},"encoding":{"x2":{"field":"x2"},"y2":{"field":"y2"}}},
{"data":{"name":"c_dot"},"mark":{"type":"point","filled":true,"size":12,"color":"#111","opacity":1}},
{"data":{"name":"c_text"},"mark":{"type":"text","align":"left","baseline":"middle","fontSize":12},"encoding":{"text":{"field":"t"},"color":{"field":"c","type":"nominal","scale":{"domain":["lab","Cu+","Cu0","Cu2+"],"range":["#000000","#22a022","#22a022","#a33ce6"]},"legend":null}}},
{"data":{"name":"c_small"},"mark":{"type":"text","align":"left","baseline":"middle","fontSize":7.5},"encoding":{"text":{"field":"t"},"color":{"field":"c","type":"nominal","scale":{"domain":["lab","Cu+","Cu0","Cu2+"],"range":["#000000","#22a022","#22a022","#a33ce6"]},"legend":null}}}
]},
{"title":{"text":"d","fontWeight":"normal"},"width":312,"height":229,
"encoding":{"x":{"field":"x","type":"quantitative","scale":{"domain":[910,927.9],"nice":false,"zero":false},"axis":{"title":"Kinetic Energy (eV)","values":[910.5,912,913.5,915,916.5,918,919.5,921,922.5,924,925.5,927],"labelExpr":"datum.value % 3 === 0 ? datum.label : ''","labelPadding":4,"titlePadding":6,"labelFontSize":13,"titleFontSize":13.5,"titleFontWeight":400}},
"y":{"field":"y","type":"quantitative","scale":{"domain":[0,229],"nice":false,"zero":false},"axis":{"title":"Intensity (a.u.)","labels":false,"ticks":false,"titlePadding":16,"titleFontSize":15,"titleFontWeight":400,"minExtent":0,"maxExtent":0}}},
"layer":[
{"data":{"name":"d_line"},"mark":{"type":"line","color":"#111","strokeWidth":1.4}},
{"data":{"name":"d_arrow"},"mark":{"type":"rule","color":"#111","strokeWidth":1},"encoding":{"x2":{"field":"x2"},"y2":{"field":"y2"}}},
{"data":{"name":"d_head"},"mark":{"type":"point","shape":"triangle","angle":40,"filled":true,"size":20,"color":"#111","opacity":1}},
{"data":{"name":"d_text"},"mark":{"type":"text","align":"left","baseline":"middle","fontSize":12.5},"encoding":{"text":{"field":"t"}}},
{"data":{"name":"d_small"},"mark":{"type":"text","align":"left","baseline":"middle","fontSize":7.5},"encoding":{"text":{"field":"t"}}}
]}
],"spacing":25,"resolve":{"scale":{"color":"independent","fill":"independent","stroke":"independent","strokeWidth":"independent"}}}
]
}
